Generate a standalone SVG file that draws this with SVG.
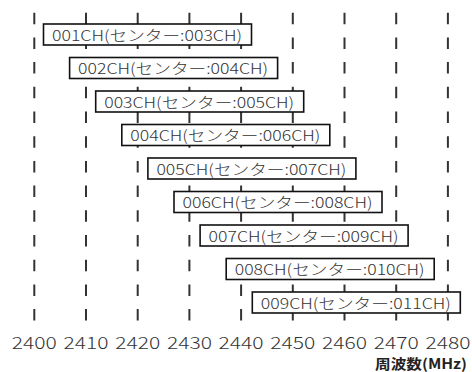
<svg xmlns="http://www.w3.org/2000/svg" width="472" height="372" viewBox="0 0 472 372">
<style>
.grid line{stroke:#333;stroke-width:2;stroke-dasharray:11.5 13.2}
.box rect{fill:#fff;stroke:#111;stroke-width:1.6}
.box text{font-family:"Noto Sans CJK JP","Noto Sans",sans-serif;font-size:15px;font-weight:300;fill:#333;text-anchor:middle}
.ax{font-family:"Noto Sans CJK JP","Noto Sans",sans-serif;font-size:17px;font-weight:300;fill:#333;text-anchor:middle}
.unit{font-family:"Noto Sans CJK JP","Noto Sans",sans-serif;font-size:14px;font-weight:bold;fill:#222;text-anchor:end}
</style>
<rect width="472" height="372" fill="#fff"/>
<g id="connectors" class="grid">
<line x1="34.3" y1="12.7" x2="34.3" y2="322"/>
<line x1="86" y1="12.7" x2="86" y2="322"/>
<line x1="137.7" y1="12.7" x2="137.7" y2="322"/>
<line x1="189.4" y1="12.7" x2="189.4" y2="322"/>
<line x1="241.1" y1="12.7" x2="241.1" y2="322"/>
<line x1="292.8" y1="12.7" x2="292.8" y2="322"/>
<line x1="344.5" y1="12.7" x2="344.5" y2="322"/>
<line x1="396.2" y1="12.7" x2="396.2" y2="322"/>
<line x1="447.9" y1="12.7" x2="447.9" y2="322"/>
</g>
<g id="ch001" class="box"><rect x="43.5" y="24" width="208" height="21"/><text x="147" y="40.7" textLength="190" lengthAdjust="spacingAndGlyphs">001CH(センター:003CH)</text></g>
<g id="ch002" class="box"><rect x="69.6" y="57.5" width="208" height="21"/><text x="173.1" y="74.2" textLength="190" lengthAdjust="spacingAndGlyphs">002CH(センター:004CH)</text></g>
<g id="ch003" class="box"><rect x="95.7" y="91" width="208" height="21"/><text x="199.2" y="107.7" textLength="190" lengthAdjust="spacingAndGlyphs">003CH(センター:005CH)</text></g>
<g id="ch004" class="box"><rect x="121.8" y="124.5" width="208" height="21"/><text x="225.3" y="141.2" textLength="190" lengthAdjust="spacingAndGlyphs">004CH(センター:006CH)</text></g>
<g id="ch005" class="box"><rect x="147.9" y="158" width="208" height="21"/><text x="251.4" y="174.7" textLength="190" lengthAdjust="spacingAndGlyphs">005CH(センター:007CH)</text></g>
<g id="ch006" class="box"><rect x="174" y="191.5" width="208" height="21"/><text x="277.5" y="208.2" textLength="190" lengthAdjust="spacingAndGlyphs">006CH(センター:008CH)</text></g>
<g id="ch007" class="box"><rect x="200.1" y="225" width="208" height="21"/><text x="303.6" y="241.7" textLength="190" lengthAdjust="spacingAndGlyphs">007CH(センター:009CH)</text></g>
<g id="ch008" class="box"><rect x="226.2" y="258.5" width="208" height="21"/><text x="329.7" y="275.2" textLength="190" lengthAdjust="spacingAndGlyphs">008CH(センター:010CH)</text></g>
<g id="ch009" class="box"><rect x="252.3" y="292" width="208" height="21"/><text x="355.8" y="308.7" textLength="190" lengthAdjust="spacingAndGlyphs">009CH(センター:011CH)</text></g>
<g id="axis">
<text class="ax" x="34.3" y="349.3" textLength="45" lengthAdjust="spacingAndGlyphs">2400</text>
<text class="ax" x="86" y="349.3" textLength="45" lengthAdjust="spacingAndGlyphs">2410</text>
<text class="ax" x="137.7" y="349.3" textLength="45" lengthAdjust="spacingAndGlyphs">2420</text>
<text class="ax" x="189.4" y="349.3" textLength="45" lengthAdjust="spacingAndGlyphs">2430</text>
<text class="ax" x="241.1" y="349.3" textLength="45" lengthAdjust="spacingAndGlyphs">2440</text>
<text class="ax" x="292.8" y="349.3" textLength="45" lengthAdjust="spacingAndGlyphs">2450</text>
<text class="ax" x="344.5" y="349.3" textLength="45" lengthAdjust="spacingAndGlyphs">2460</text>
<text class="ax" x="396.2" y="349.3" textLength="45" lengthAdjust="spacingAndGlyphs">2470</text>
<text class="ax" x="447.9" y="349.3" textLength="45" lengthAdjust="spacingAndGlyphs">2480</text>
<text class="unit" x="467" y="369" textLength="92" lengthAdjust="spacingAndGlyphs">周波数(MHz)</text>
</g>
</svg>
